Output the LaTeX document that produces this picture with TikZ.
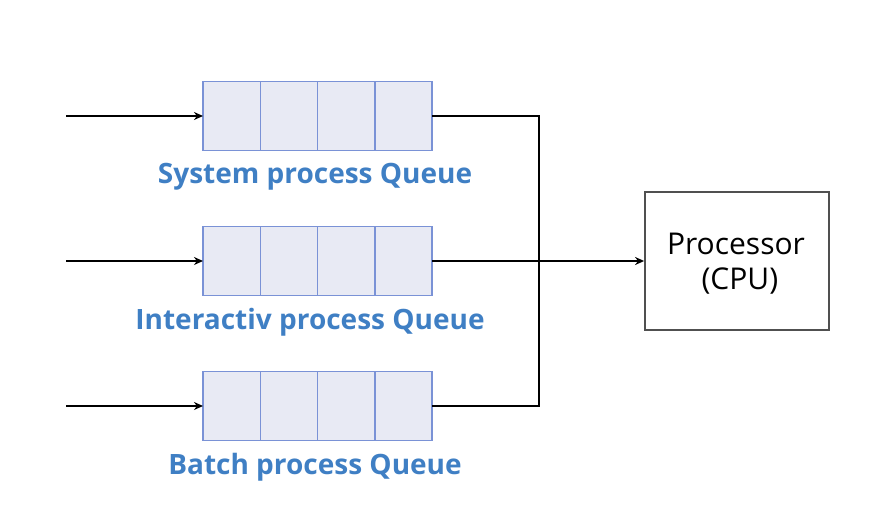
\documentclass[tikz,border=0pt]{standalone}
\usepackage{fontspec}
\setmainfont{Open Sans}
\usetikzlibrary{calc,arrows.meta}
\definecolor{qfill}{RGB}{232,234,244}
\definecolor{qline}{RGB}{122,146,214}
\definecolor{qtext}{RGB}{63,127,196}
\definecolor{cpuline}{RGB}{80,80,80}
\tikzset{
  queue/.style={draw=qline, fill=qfill, line width=1.5pt, minimum width=229pt, minimum height=69pt, inner sep=0pt, outer sep=0pt},
  qlabel/.style={text=qtext, font=\fontsize{28}{30}\selectfont\bfseries, inner sep=0pt},
  cpubox/.style={draw=cpuline, line width=1.8pt, minimum width=184pt, minimum height=138pt, inner sep=0pt},
  cputext/.style={align=center, inner sep=0pt, font=\fontsize{30}{35}\selectfont},
  conn/.style={line width=2.5pt, black},
  arr/.style={conn, -{Stealth[length=9pt,width=8pt]}}
}
\newcommand{\qcells}[1]{%
  \foreach \f in {0.25,0.5,0.75}{
    \draw[qline, line width=1.5pt] ($(#1.north west)!\f!(#1.north east)$) -- ($(#1.south west)!\f!(#1.south east)$);
  }}
\begin{document}
\begin{tikzpicture}[x=1pt,y=-1pt]
\useasboundingbox (0,0) rectangle (896,508);
\node[queue] (q1) at (317.5,116) {};
\node[queue] (q2) at (317.5,261) {};
\node[queue] (q3) at (317.5,406) {};
\qcells{q1}\qcells{q2}\qcells{q3}
\node[qlabel] (l1) at (315,177) {System process Queue};
\node[qlabel] (l2) at (310,322) {Interactiv process Queue};
\node[qlabel] (l3) at (315,467) {Batch process Queue};
\node[cpubox] (cpu) at (737,261) {};
\node[cputext] (cput) at (736,264) {Processor\\\ (CPU)};
\coordinate (i1) at (66,116);
\coordinate (i2) at (66,261);
\coordinate (i3) at (66,406);
\coordinate (j) at (539,261);
\draw[arr] (i1) -- (q1.west);
\draw[arr] (i2) -- (q2.west);
\draw[arr] (i3) -- (q3.west);
\draw[conn] (q1.east) -| (j);
\draw[conn] (q3.east) -| (j);
\draw[arr] (q2.east) -- (cpu.west);
\end{tikzpicture}
\end{document}
